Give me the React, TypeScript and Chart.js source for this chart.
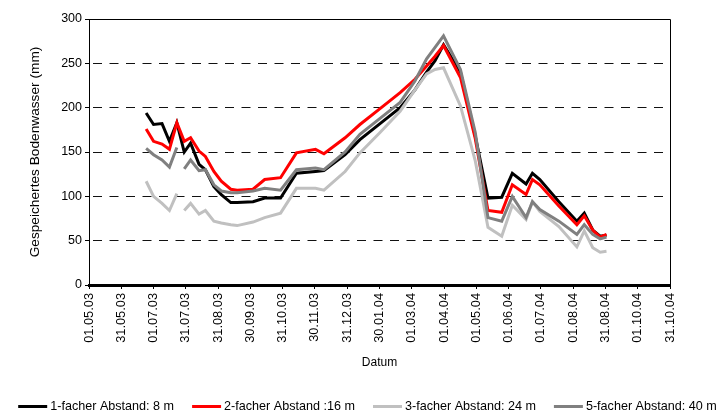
import { useEffect, useRef } from "react";
import { Chart, registerables } from "chart.js";

Chart.register(...registerables);

// X axis: days since 01.05.03, major tick every 30.5 days
const tickLabels = [
  "01.05.03", "31.05.03", "01.07.03", "31.07.03", "31.08.03", "30.09.03",
  "31.10.03", "30.11.03", "31.12.03", "30.01.04", "01.03.04", "01.04.04",
  "01.05.04", "01.06.04", "01.07.04", "01.08.04", "31.08.04", "01.10.04",
  "31.10.04",
];
const tickStepDays = 30.5;

// Measurement days (days since 01.05.03)
const days = [
  54, 61, 69, 76, 83, 87, 90, 96, 104, 110, 118, 125, 134, 140, 155, 166, 181,
  196, 214, 222, 242, 256, 275, 294, 308, 319, 327, 335, 351, 365, 377, 390,
  400, 413, 419, 426, 444, 461, 468, 476, 483, 489,
];

const seriesNames = [
  "1-facher Abstand: 8 m",
  "2-facher Abstand :16 m",
  "3-facher Abstand: 24 m",
  "5-facher Abstand: 40 m",
];
const seriesColors = ["#000000", "#ff0000", "#c0c0c0", "#808080"];

const abstand8 = [
  194, 181, 182, 162, 183, null, 150, 160, 136, 130, 111, 102, 93, 93, 94, 98,
  98, 126, 128, 129, 147, 164, 182, 200, 220, 240, 253, 271, 240, 168, 98, 99,
  126, 114, 126, 119, 94, 72, 81, 62, 55, 56,
];
const abstand16 = [
  176, 162, 159, 153, 183, null, 162, 166, 151, 145, 128, 117, 108, 107, 108,
  119, 121, 149, 153, 148, 166, 181, 199, 217, 232, 247, 258, 270, 234, 165, 84,
  82, 113, 102, 119, 113, 89, 68, 78, 62, 54, 57,
];
const abstand24 = [
  117, 100, 92, 84, 103, null, 84, 92, 80, 84, 72, 70, 68, 67, 71, 76, 81, 109,
  109, 107, 128, 149, 172, 196, 220, 238, 243, 245, 202, 140, 65, 55, 90, 74,
  94, 83, 66, 43, 61, 42, 37, 38,
];
const abstand40 = [
  154, 147, 141, 133, 155, null, 131, 141, 129, 130, 113, 106, 104, 104, 106,
  109, 107, 130, 132, 130, 150, 170, 188, 206, 230, 255, 268, 281, 243, 172, 76,
  72, 100, 76, 94, 85, 72, 57, 68, 57, 52, 54,
];
const seriesValues = [abstand8, abstand16, abstand24, abstand40];
const seriesSpanGaps = [true, true, false, false];

const yTicksMin = 0;
const yTicksMax = 300;
const yTicksStep = 50;

const FONT = '"Liberation Sans", Arial, Helvetica, sans-serif';

const framePlugin = {
  id: "frame",
  afterDraw(chart: any) {
    const { ctx, chartArea } = chart;
    ctx.save();
    ctx.strokeStyle = "#000";
    ctx.lineWidth = 1;
    ctx.beginPath();
    ctx.moveTo(Math.round(chartArea.left) + 0.5, Math.round(chartArea.top) + 0.5);
    ctx.lineTo(Math.round(chartArea.right) + 0.5, Math.round(chartArea.top) + 0.5);
    ctx.lineTo(Math.round(chartArea.right) + 0.5, Math.round(chartArea.bottom));
    ctx.stroke();
    ctx.restore();
  },
};

const legendPlugin = {
  id: "bottomLegend",
  afterDraw(chart: any) {
    const { ctx } = chart;
    const lineLen = 29;
    const gapLineText = 3;
    const gapItems = 18;
    ctx.save();
    ctx.font = `12.6px ${FONT}`;
    ctx.textBaseline = "middle";
    ctx.textAlign = "left";
    const items = chart.data.datasets.map((ds: any) => ({
      label: ds.label,
      color: ds.borderColor,
      w: ctx.measureText(ds.label).width,
    }));
    const total =
      items.reduce((s: number, it: any) => s + lineLen + gapLineText + it.w, 0) +
      gapItems * (items.length - 1);
    let x = chart.width / 2 + 8 - total / 2;
    const y = 406.5;
    for (const it of items) {
      ctx.strokeStyle = it.color;
      ctx.lineWidth = 3;
      ctx.beginPath();
      ctx.moveTo(x, y);
      ctx.lineTo(x + lineLen, y);
      ctx.stroke();
      ctx.fillStyle = "#000";
      ctx.fillText(it.label, x + lineLen + gapLineText, y);
      x += lineLen + gapLineText + it.w + gapItems;
    }
    ctx.restore();
  },
};

export default function App() {
  const canvasRef = useRef<HTMLCanvasElement | null>(null);

  useEffect(() => {
    if (!canvasRef.current) return;
    const datasets = seriesNames.map((name, i) => ({
      label: name,
      data: days.map((d, j) => ({ x: d, y: seriesValues[i][j] })),
      borderColor: seriesColors[i],
      backgroundColor: seriesColors[i],
      borderWidth: 3,
      pointRadius: 0,
      pointHoverRadius: 0,
      tension: 0,
      fill: false,
      spanGaps: seriesSpanGaps[i],
      order: seriesNames.length - i,
    }));

    const chart = new Chart(canvasRef.current, {
      type: "line",
      data: { datasets },
      plugins: [framePlugin, legendPlugin],
      options: {
        responsive: false,
        animation: false,
        devicePixelRatio: 1,
        layout: { padding: { left: 0, right: 49, top: 19, bottom: 0 } },
        plugins: {
          legend: { display: false },
          tooltip: { enabled: false },
        },
        scales: {
          x: {
            type: "linear",
            min: 0,
            max: tickStepDays * (tickLabels.length - 1),
            afterBuildTicks: (scale: any) => {
              scale.ticks = tickLabels.map((_, i) => ({ value: i * tickStepDays }));
            },
            afterFit: (scale: any) => {
              scale.height = 128;
            },
            ticks: {
              autoSkip: false,
              minRotation: 90,
              maxRotation: 90,
              padding: 4,
              color: "#000",
              font: { family: FONT, size: 12.8 },
              callback: (_v: any, i: number) => tickLabels[i],
            },
            grid: {
              display: true,
              drawOnChartArea: false,
              drawTicks: true,
              tickLength: 4,
              tickColor: "#000",
              tickWidth: 1,
            },
            border: { display: true, color: "#000", width: 3 },
            title: {
              display: true,
              text: "Datum",
              color: "#000",
              font: { family: FONT, size: 12 },
              padding: { top: 0, bottom: 42.8 },
            },
          },
          y: {
            type: "linear",
            min: yTicksMin,
            max: yTicksMax,
            afterFit: (scale: any) => {
              scale.width = 89;
            },
            ticks: {
              stepSize: yTicksStep,
              padding: 3,
              color: "#000",
              font: { family: FONT, size: 12.5 },
            },
            grid: {
              display: true,
              drawOnChartArea: true,
              drawTicks: true,
              tickLength: 4,
              tickColor: "#000",
              tickWidth: 1,
              lineWidth: 1,
              color: (ctx: any) =>
                ctx.tick && (ctx.tick.value === yTicksMin || ctx.tick.value === yTicksMax)
                  ? "rgba(0,0,0,0)"
                  : "#111",
            },
            border: { display: true, color: "#000", width: 1, dash: [9, 7.5], dashOffset: 13.5 },
            title: {
              display: true,
              text: "Gespeichertes Bodenwasser (mm)",
              color: "#000",
              font: { family: FONT, size: 13.7 },
              padding: { top: 26.8, bottom: 0 },
            },
          },
        },
      },
    });
    return () => chart.destroy();
  }, []);

  return (
    <div style={{ position: "fixed", left: 0, top: 0, width: 719, height: 413, background: "#fff" }}>
      <canvas ref={canvasRef} width={719} height={413} style={{ display: "block" }} />
    </div>
  );
}
